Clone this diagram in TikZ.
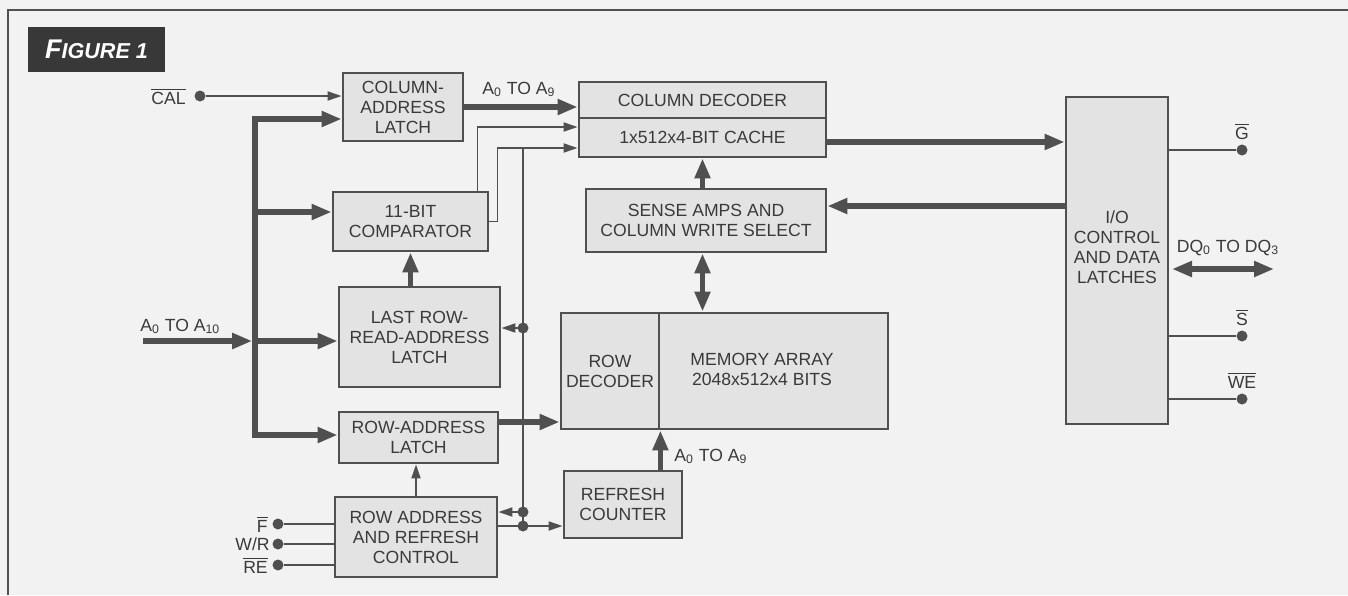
\documentclass[tikz,border=0pt]{standalone}
\usepackage{fontspec}
\setmainfont{Liberation Sans}
\usetikzlibrary{arrows.meta, positioning}
\definecolor{lc}{HTML}{505050}
\definecolor{txt}{HTML}{3A3A3A}
\definecolor{boxfill}{HTML}{E3E3E3}
\definecolor{paper}{HTML}{F2F2F2}
\definecolor{figdark}{HTML}{383838}
\newcommand{\ovl}[1]{$\overline{\mbox{#1}}$}
\newcommand{\sub}[1]{\textsubscript{#1}}

\begin{document}
\begin{tikzpicture}[x=0.5pt, y=-0.5pt, text=txt,
		font=\fontsize{8.8}{10}\selectfont,
		blk/.style={draw=lc, fill=boxfill, line width=1.4pt, align=center, inner sep=0pt},
		bus/.style={draw=lc, line width=2.8pt, >={Triangle[length=10pt,width=7.5pt]}},
		wire/.style={draw=lc, line width=0.9pt, >={Triangle[length=7pt,width=4.5pt]}},
		pin/.style={circle, fill=lc, inner sep=0pt, minimum size=5.5pt},
		sig/.style={inner sep=0pt}]
		
		\useasboundingbox (0,0) rectangle (1348,595);
		\fill[paper] (0,0) rectangle (1348,595);
		\draw[lc, line width=1pt] (8,595) -- (8,10) -- (1348,10);
		
		\node[fill=figdark, text=white, minimum width=68.5pt, minimum height=22.5pt,
		inner sep=0pt, font=\bfseries\itshape] (fig) at (96.5,49.5)
		{\fontsize{13.5}{15}\selectfont F\fontsize{10.8}{12}\selectfont IGURE 1};
		
		% blocks
		\node[blk, minimum width=60pt, minimum height=34pt] (collatch) at (403,107) {COLUMN-\\ADDRESS\\LATCH};
		\node[blk, minimum width=77.5pt, minimum height=29.5pt] (comp) at (410.5,221.5) {11-BIT\\COMPARATOR};
		\node[blk, minimum width=80.5pt, minimum height=50pt] (lastrow) at (419.5,337) {LAST ROW-\\READ-ADDRESS\\LATCH};
		\node[blk, minimum width=79.5pt, minimum height=25.5pt] (rowlatch) at (418.5,437.5) {ROW-ADDRESS\\LATCH};
		\node[blk, minimum width=81pt, minimum height=40pt] (ctrl) at (416,537) {ROW ADDRESS\\AND REFRESH\\CONTROL};
		\node[blk, minimum width=123.5pt, minimum height=18pt] (coldec) at (702.5,100) {COLUMN DECODER};
		\node[blk, minimum width=123.5pt, minimum height=19.5pt] (cache) at (702.5,137.5) {1x512x4-BIT CACHE};
		\node[blk, minimum width=120pt, minimum height=31.5pt] (sense) at (706,220.5) {SENSE AMPS AND\\COLUMN WRITE SELECT};
		\node[blk, minimum width=49pt, minimum height=58pt] (rowdec) at (610,371) {ROW\\DECODER};
		\node[blk, minimum width=114.5pt, minimum height=58pt] (memarr) at (773.5,371) {};
		\node[sig, align=center] (memtxt) at (762,369) {MEMORY ARRAY\\2048x512x4 BITS};
		\node[blk, minimum width=59pt, minimum height=33.5pt] (refresh) at (623,504.5) {REFRESH\\COUNTER};
		\node[blk, minimum width=51pt, minimum height=163.5pt] (io) at (1117,260.5) {};
		\node[sig, align=center] (iotxt) at (1117,247) {I/O\\CONTROL\\AND DATA\\LATCHES};
		
		% address bus
		\coordinate (bustop) at (255,119);
		\coordinate (busbot) at (255,435);
		\coordinate (tapc) at (255,212);
		\coordinate (tapl) at (255,341);
		\coordinate (ain) at (143,341);
		\draw[bus,<->] (bustop -| collatch.west) -- (bustop) -- (busbot) -- (busbot -| rowlatch.west);
		\draw[bus,->] (tapc) -- (tapc -| comp.west);
		\draw[bus,->] (tapl) -- (tapl -| lastrow.west);
		\draw[bus,->] (ain) -- ([xshift=-1.4pt]tapl);
		\node[sig, anchor=base west] (alab) at (140,331) {A\sub{0} TO A\sub{10}};
		
		\node[pin] (cal) at (200,96) {};
		\node[sig, left=4pt of cal] {\ovl{CAL}};
		\draw[wire,->] (cal) -- (cal -| collatch.west);
		
		\draw[bus,->] (collatch.east) -- (collatch.east -| coldec.west);
		\node[sig, anchor=base] (clab) at (519,94) {A\sub{0} TO A\sub{9}};
		
		\draw[wire,->] ([xshift=-6pt]comp.north east) |- ([yshift=5.25pt]cache.west);
		\draw[wire,->] (comp.east) -- ++(8,0) |- ([yshift=-5.25pt]cache.west);
		\draw[bus,->] (comp.south |- lastrow.north) -- (comp.south);
		
		% refresh path
		\coordinate (vtop) at (523,148);
		\node[pin] (j1) at (523,328) {};
		\node[pin] (j2) at (523,512) {};
		\node[pin] (j3) at (523,526) {};
		\draw[wire] (vtop) -- (j3.center);
		\draw[wire,->] (j1.center) -- (j1 -| lastrow.east);
		\draw[wire,->] (j2.center) -- (j2 -| ctrl.east);
		\draw[wire,->] (j3 -| ctrl.east) -- (j3 -| refresh.west);
		
		\draw[bus,->] ([yshift=7.75pt]rowlatch.east) -- ([yshift=7.75pt]rowlatch.east -| rowdec.west);
		\draw[wire,->] (ctrl.north) -- (ctrl.north |- rowlatch.south);
		
		\node[pin] (pf) at (278,524) {};
		\node[pin] (pwr) at (278,544) {};
		\node[pin] (pre) at (278,565) {};
		\node[sig, left=2pt of pf] {\ovl{F}};
		\node[sig, left=1pt of pwr] {W/R};
		\node[sig, left=2pt of pre] {\ovl{RE}};
		\draw[wire] (pf) -- (pf -| ctrl.west);
		\draw[wire] (pwr) -- (pwr -| ctrl.west);
		\draw[wire] (pre) -- (pre -| ctrl.west);
		
		\draw[bus,->] (refresh.north -| rowdec.east) -- (rowdec.south east);
		\node[sig, anchor=base west] (rlab) at (674,461) {A\sub{0} TO A\sub{9}};
		
		% data path
		\draw[bus,->] (cache.south |- sense.north) -- (cache.south);
		\draw[bus,<->] (cache.south |- sense.south) -- (cache.south |- memarr.north);
		\draw[bus,->] ([yshift=-2.25pt]cache.east) -- ([yshift=-2.25pt]cache.east -| io.west);
		\draw[bus,->] ([yshift=7.25pt]sense.east -| io.west) -- ([yshift=7.25pt]sense.east);
		
		\node[pin] (pg) at (1242,150) {};
		\node[pin] (ps) at (1242,336) {};
		\node[pin] (pwe) at (1242,399) {};
		\node[sig, above=2pt of pg] {\ovl{G}};
		\node[sig, above=2pt of ps] {\ovl{S}};
		\node[sig, above=2pt of pwe] {\ovl{WE}};
		\draw[wire] (pg -| io.east) -- (pg);
		\draw[wire] (ps -| io.east) -- (ps);
		\draw[wire] (pwe -| io.east) -- (pwe);
		
		\coordinate (dqbeg) at (1172,269);
		\coordinate (dqend) at (1274,269);
		\draw[bus,<->] (dqbeg) -- (dqend);
		\node[sig, anchor=base] (dqlab) at (1228,252) {DQ\sub{0} TO DQ\sub{3}};
		
	\end{tikzpicture}
\end{document}
